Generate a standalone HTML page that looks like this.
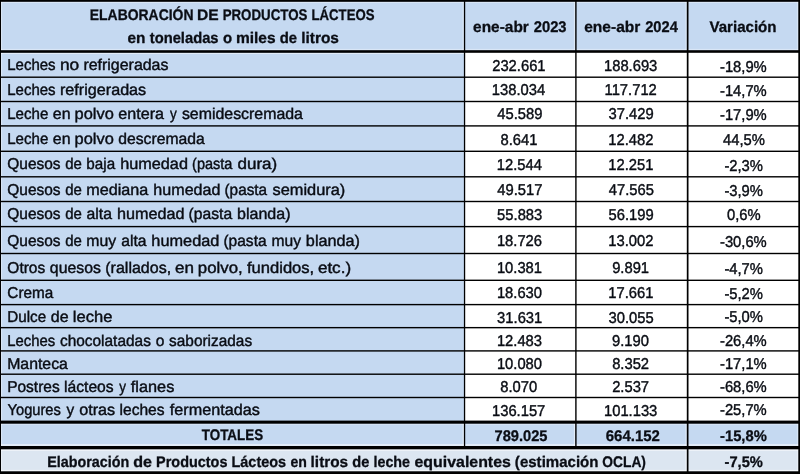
<!DOCTYPE html><html lang="es"><head><meta charset="utf-8"><title>Elaboración de productos lácteos</title>
<style>html,body{margin:0;padding:0;background:#fff;overflow:hidden}svg{display:block}text{font-family:"Liberation Sans",sans-serif;fill:#0a0d14;font-size:15.7px;stroke:#0a0d14;stroke-width:0.42px;stroke-linejoin:round;text-rendering:geometricPrecision}.b{font-weight:bold;font-size:15.4px;stroke-width:0.3px}</style></head><body>
<svg width="800" height="474" viewBox="0 0 800 474">
<rect x="0" y="0" width="800" height="474" fill="#fff"/>
<rect x="0" y="0" width="800" height="51.5" fill="#c5d9f1"/>
<rect x="0" y="51" width="464.5" height="371" fill="#c5d9f1"/>
<rect x="0" y="421.5" width="800" height="26" fill="#c5d9f1"/>
<rect x="0" y="447" width="800" height="27" fill="#dce6f1"/>
<rect x="0" y="1.8" width="800" height="1.2" fill="#fff" fill-opacity="0.35"/>
<rect x="1" y="0" width="1.1" height="474" fill="#fff" fill-opacity="0.35"/>
<rect x="0" y="48.9" width="800" height="1.3" fill="#fff" fill-opacity="0.35"/>
<rect x="0" y="53.0" width="464" height="1.0" fill="#fff" fill-opacity="0.5"/>
<rect x="0" y="423.5" width="800" height="1.2" fill="#fff" fill-opacity="0.4"/>
<rect x="0" y="444.2" width="800" height="1.6" fill="#fff" fill-opacity="0.6"/>
<rect x="0" y="449.2" width="800" height="1.5" fill="#fff" fill-opacity="0.7"/>
<rect x="0" y="469.9" width="800" height="1.4" fill="#fff" fill-opacity="0.6"/>
<rect x="462.59999999999997" y="1.8" width="1.3" height="48.4" fill="#fff" fill-opacity="0.4"/>
<rect x="462.59999999999997" y="423.5" width="1.3" height="22.3" fill="#fff" fill-opacity="0.5"/>
<rect x="573.9000000000001" y="1.8" width="1.3" height="48.4" fill="#fff" fill-opacity="0.4"/>
<rect x="573.9000000000001" y="423.5" width="1.3" height="22.3" fill="#fff" fill-opacity="0.5"/>
<rect x="685.5" y="1.8" width="1.3" height="48.4" fill="#fff" fill-opacity="0.4"/>
<rect x="685.5" y="423.5" width="1.3" height="22.3" fill="#fff" fill-opacity="0.5"/>
<rect x="685.5" y="449.2" width="1.3" height="22" fill="#fff" fill-opacity="0.6"/>
<rect x="796.9" y="0" width="1.4" height="474" fill="#fff" fill-opacity="0.3"/>
<rect x="0" y="76.50" width="800" height="1.40" fill="#000"/>
<rect x="0" y="100.80" width="800" height="1.40" fill="#000"/>
<rect x="0" y="125.20" width="800" height="1.40" fill="#000"/>
<rect x="0" y="150.60" width="800" height="1.40" fill="#000"/>
<rect x="0" y="176.10" width="800" height="1.40" fill="#000"/>
<rect x="0" y="200.80" width="800" height="1.40" fill="#000"/>
<rect x="0" y="225.90" width="800" height="1.40" fill="#000"/>
<rect x="0" y="252.80" width="800" height="1.40" fill="#000"/>
<rect x="0" y="279.60" width="800" height="1.40" fill="#000"/>
<rect x="0" y="303.90" width="800" height="1.40" fill="#000"/>
<rect x="0" y="326.95" width="800" height="1.40" fill="#000"/>
<rect x="0" y="350.20" width="800" height="1.40" fill="#000"/>
<rect x="0" y="373.50" width="800" height="1.40" fill="#000"/>
<rect x="0" y="396.80" width="800" height="1.40" fill="#000"/>
<rect x="0" y="50.20" width="800" height="2.60" fill="#000"/>
<rect x="0" y="420.60" width="800" height="3.10" fill="#000"/>
<rect x="0" y="446.00" width="800" height="3.30" fill="#000"/>
<rect x="0" y="471.30" width="800" height="2.70" fill="#000"/>
<rect x="0" y="0.00" width="800" height="1.80" fill="#000"/>
<rect x="0" y="0" width="1" height="474" fill="#000"/>
<rect x="798.3" y="0" width="1.7" height="474" fill="#000"/>
<rect x="463.9" y="0" width="1.30" height="447" fill="#000"/>
<rect x="575.2" y="0" width="1.40" height="447" fill="#000"/>
<rect x="686.8" y="0" width="1.70" height="474" fill="#000"/>
<g>
<text transform="translate(89.80 19.90) scale(0.9049 1)" class="b">ELABORACIÓN</text>
<text transform="translate(196.99 19.90) scale(1.0127 1)" class="b">DE</text>
<text transform="translate(222.64 19.90) scale(0.8642 1)" class="b">PRODUCTOS</text>
<text transform="translate(311.54 19.90) scale(0.8556 1)" class="b">LÁCTEOS</text>
</g>
<g>
<text transform="translate(127.50 42.90) scale(1.0000 1)" class="b">en</text>
<text transform="translate(149.76 42.90) scale(0.9577 1)" class="b">toneladas</text>
<text transform="translate(223.02 42.90) scale(0.9697 1)" class="b">o</text>
<text transform="translate(235.99 42.90) scale(1.0066 1)" class="b">miles</text>
<text transform="translate(279.77 42.90) scale(0.9672 1)" class="b">de</text>
<text transform="translate(301.20 42.90) scale(1.0028 1)" class="b">litros</text>
</g>
<g>
<text transform="translate(473.10 31.80) scale(1.0018 1)" class="b">ene-abr</text>
<text transform="translate(533.72 31.80) scale(0.9594 1)" class="b">2023</text>
</g>
<g>
<text transform="translate(584.20 31.80) scale(1.0091 1)" class="b">ene-abr</text>
<text transform="translate(645.22 31.80) scale(0.9511 1)" class="b">2024</text>
</g>
<text transform="translate(709.46 31.50) scale(0.9799 1)" class="b">Variación</text>
<g>
<text transform="translate(7.21 69.50) scale(0.9559 1)">Leches</text>
<text transform="translate(59.90 69.50) scale(1.1048 1)">no</text>
<text transform="translate(83.38 69.50) scale(1.0164 1)">refrigeradas</text>
</g>
<text transform="translate(492.20 70.65) scale(0.9411 1)">232.661</text>
<text transform="translate(603.96 70.65) scale(0.9411 1)">188.693</text>
<text transform="translate(719.97 71.95) scale(0.9411 1)">-18,9%</text>
<g>
<text transform="translate(7.21 95.00) scale(0.9559 1)">Leches</text>
<text transform="translate(59.97 95.00) scale(1.0298 1)">refrigeradas</text>
</g>
<text transform="translate(491.84 95.35) scale(0.9411 1)">138.034</text>
<text transform="translate(604.55 95.35) scale(0.9411 1)">117.712</text>
<text transform="translate(719.97 96.15) scale(0.9411 1)">-14,7%</text>
<g>
<text transform="translate(7.20 119.30) scale(0.9620 1)">Leche</text>
<text transform="translate(52.84 119.30) scale(1.0159 1)">en</text>
<text transform="translate(74.55 119.30) scale(1.0462 1)">polvo</text>
<text transform="translate(118.23 119.30) scale(1.0286 1)">entera</text>
<text transform="translate(170.00 119.30) scale(0.8635 1)">y</text>
<text transform="translate(181.89 119.30) scale(1.0134 1)">semidescremada</text>
</g>
<text transform="translate(497.35 119.45) scale(0.9411 1)">45.589</text>
<text transform="translate(608.56 119.45) scale(0.9411 1)">37.429</text>
<text transform="translate(719.97 120.25) scale(0.9411 1)">-17,9%</text>
<g>
<text transform="translate(7.20 144.00) scale(0.9620 1)">Leche</text>
<text transform="translate(52.84 144.00) scale(1.0159 1)">en</text>
<text transform="translate(74.55 144.00) scale(1.0462 1)">polvo</text>
<text transform="translate(118.25 144.00) scale(1.0012 1)">descremada</text>
</g>
<text transform="translate(500.43 145.15) scale(0.9411 1)">8.641</text>
<text transform="translate(608.33 145.15) scale(0.9411 1)">12.482</text>
<text transform="translate(722.98 144.85) scale(0.9411 1)">44,5%</text>
<g>
<text transform="translate(7.26 169.10) scale(0.9858 1)">Quesos</text>
<text transform="translate(65.28 169.10) scale(0.9562 1)">de</text>
<text transform="translate(86.33 169.10) scale(0.9704 1)">baja</text>
<text transform="translate(120.16 169.10) scale(1.0362 1)">humedad</text>
<text transform="translate(192.08 169.10) scale(0.9247 1)">(pasta</text>
<text transform="translate(237.49 169.10) scale(1.0849 1)">dura)</text>
</g>
<text transform="translate(496.76 170.45) scale(0.9411 1)">12.544</text>
<text transform="translate(608.33 170.45) scale(0.9411 1)">12.251</text>
<text transform="translate(724.39 171.15) scale(0.9411 1)">-2,3%</text>
<g>
<text transform="translate(7.26 195.00) scale(0.9858 1)">Quesos</text>
<text transform="translate(65.28 195.00) scale(0.9562 1)">de</text>
<text transform="translate(86.27 195.00) scale(1.0312 1)">mediana</text>
<text transform="translate(153.37 195.00) scale(1.0252 1)">humedad</text>
<text transform="translate(224.52 195.00) scale(0.9765 1)">(pasta</text>
<text transform="translate(272.48 195.00) scale(1.0432 1)">semidura)</text>
</g>
<text transform="translate(497.35 194.95) scale(0.9411 1)">49.517</text>
<text transform="translate(608.80 194.95) scale(0.9411 1)">47.565</text>
<text transform="translate(724.39 195.95) scale(0.9411 1)">-3,9%</text>
<g>
<text transform="translate(7.26 219.30) scale(0.9858 1)">Quesos</text>
<text transform="translate(65.28 219.30) scale(0.9562 1)">de</text>
<text transform="translate(86.54 219.30) scale(1.0082 1)">alta</text>
<text transform="translate(116.97 219.30) scale(1.0331 1)">humedad</text>
<text transform="translate(188.60 219.30) scale(0.9976 1)">(pasta</text>
<text transform="translate(236.98 219.30) scale(1.0229 1)">blanda)</text>
</g>
<text transform="translate(497.11 220.45) scale(0.9411 1)">55.883</text>
<text transform="translate(608.56 220.45) scale(0.9411 1)">56.199</text>
<text transform="translate(726.98 220.45) scale(0.9411 1)">0,6%</text>
<g>
<text transform="translate(7.26 246.00) scale(0.9858 1)">Quesos</text>
<text transform="translate(65.28 246.00) scale(0.9562 1)">de</text>
<text transform="translate(86.29 246.00) scale(1.0070 1)">muy</text>
<text transform="translate(121.25 246.00) scale(0.9959 1)">alta</text>
<text transform="translate(151.36 246.00) scale(1.0394 1)">humedad</text>
<text transform="translate(223.41 246.00) scale(0.9906 1)">(pasta</text>
<text transform="translate(271.50 246.00) scale(0.9965 1)">muy</text>
<text transform="translate(305.87 246.00) scale(1.0348 1)">blanda)</text>
</g>
<text transform="translate(496.88 246.15) scale(0.9411 1)">18.726</text>
<text transform="translate(608.33 246.15) scale(0.9411 1)">13.002</text>
<text transform="translate(719.97 247.35) scale(0.9411 1)">-30,6%</text>
<g>
<text transform="translate(7.36 272.90) scale(0.9865 1)">Otros</text>
<text transform="translate(49.84 272.90) scale(1.0091 1)">quesos</text>
<text transform="translate(105.28 272.90) scale(1.0201 1)">(rallados,</text>
<text transform="translate(174.99 272.90) scale(1.0857 1)">en</text>
<text transform="translate(197.83 272.90) scale(1.0709 1)">polvo,</text>
<text transform="translate(246.94 272.90) scale(1.0565 1)">fundidos,</text>
<text transform="translate(317.88 272.90) scale(1.0887 1)">etc.)</text>
</g>
<text transform="translate(496.88 272.95) scale(0.9411 1)">10.381</text>
<text transform="translate(612.13 272.95) scale(0.9411 1)">9.891</text>
<text transform="translate(724.39 273.85) scale(0.9411 1)">-4,7%</text>
<g>
<text transform="translate(7.37 298.20) scale(0.9751 1)">Crema</text>
</g>
<text transform="translate(496.88 298.35) scale(0.9411 1)">18.630</text>
<text transform="translate(608.33 298.35) scale(0.9411 1)">17.661</text>
<text transform="translate(724.39 299.15) scale(0.9411 1)">-5,2%</text>
<g>
<text transform="translate(7.29 322.30) scale(0.9699 1)">Dulce</text>
<text transform="translate(50.84 322.30) scale(1.0188 1)">de</text>
<text transform="translate(72.85 322.30) scale(1.0545 1)">leche</text>
</g>
<text transform="translate(497.11 322.65) scale(0.9411 1)">31.631</text>
<text transform="translate(608.56 322.65) scale(0.9411 1)">30.055</text>
<text transform="translate(724.39 322.35) scale(0.9411 1)">-5,0%</text>
<g>
<text transform="translate(7.32 346.00) scale(0.9477 1)">Leches</text>
<text transform="translate(59.96 346.00) scale(0.9830 1)">chocolatadas</text>
<text transform="translate(155.66 346.00) scale(0.9931 1)">o</text>
<text transform="translate(169.11 346.00) scale(0.9808 1)">saborizadas</text>
</g>
<text transform="translate(496.88 345.80) scale(0.9411 1)">12.483</text>
<text transform="translate(612.01 345.80) scale(0.9411 1)">9.190</text>
<text transform="translate(719.97 345.75) scale(0.9411 1)">-26,4%</text>
<g>
<text transform="translate(7.14 368.80) scale(1.0102 1)">Manteca</text>
</g>
<text transform="translate(496.88 368.75) scale(0.9411 1)">10.080</text>
<text transform="translate(612.13 368.75) scale(0.9411 1)">8.352</text>
<text transform="translate(719.97 368.85) scale(0.9411 1)">-17,1%</text>
<g>
<text transform="translate(7.17 392.20) scale(0.9873 1)">Postres</text>
<text transform="translate(64.00 392.20) scale(0.9990 1)">lácteos</text>
<text transform="translate(119.20 392.20) scale(0.8580 1)">y</text>
<text transform="translate(130.84 392.20) scale(1.0390 1)">flanes</text>
</g>
<text transform="translate(500.31 392.35) scale(0.9411 1)">8.070</text>
<text transform="translate(612.13 392.35) scale(0.9411 1)">2.537</text>
<text transform="translate(719.97 392.10) scale(0.9411 1)">-68,6%</text>
<g>
<text transform="translate(7.53 415.30) scale(0.9357 1)">Yogures</text>
<text transform="translate(66.40 415.30) scale(0.9806 1)">y</text>
<text transform="translate(79.23 415.30) scale(1.0299 1)">otras</text>
<text transform="translate(119.51 415.30) scale(0.9943 1)">leches</text>
<text transform="translate(169.74 415.30) scale(1.0324 1)">fermentadas</text>
</g>
<text transform="translate(491.96 415.65) scale(0.9411 1)">136.157</text>
<text transform="translate(603.96 415.65) scale(0.9411 1)">101.133</text>
<text transform="translate(719.97 415.40) scale(0.9411 1)">-25,7%</text>
<text transform="translate(201.78 439.70) scale(0.8705 1)" class="b">TOTALES</text>
<text transform="translate(494.49 440.80) scale(0.9523 1)" class="b">789.025</text>
<text transform="translate(605.76 440.80) scale(0.9725 1)" class="b">664.152</text>
<text transform="translate(720.02 440.60) scale(0.9581 1)" class="b">-15,8%</text>
<g>
<text transform="translate(47.27 466.80) scale(0.9310 1)" class="b">Elaboración</text>
<text transform="translate(133.22 466.80) scale(1.0448 1)" class="b">de</text>
<text transform="translate(156.06 466.80) scale(0.9383 1)" class="b">Productos</text>
<text transform="translate(231.46 466.80) scale(0.9398 1)" class="b">Lácteos</text>
<text transform="translate(290.54 466.80) scale(0.9152 1)" class="b">en</text>
<text transform="translate(310.60 466.80) scale(0.9972 1)" class="b">litros</text>
<text transform="translate(352.29 466.80) scale(0.9493 1)" class="b">de</text>
<text transform="translate(373.47 466.80) scale(0.9298 1)" class="b">leche</text>
<text transform="translate(414.48 466.80) scale(1.0337 1)" class="b">equivalentes</text>
<text transform="translate(514.87 466.80) scale(0.9779 1)" class="b">(estimación</text>
<text transform="translate(602.33 466.80) scale(0.8952 1)" class="b">OCLA)</text>
</g>
<text transform="translate(724.52 467.10) scale(0.9554 1)" class="b">-7,5%</text>
</svg></body></html>
